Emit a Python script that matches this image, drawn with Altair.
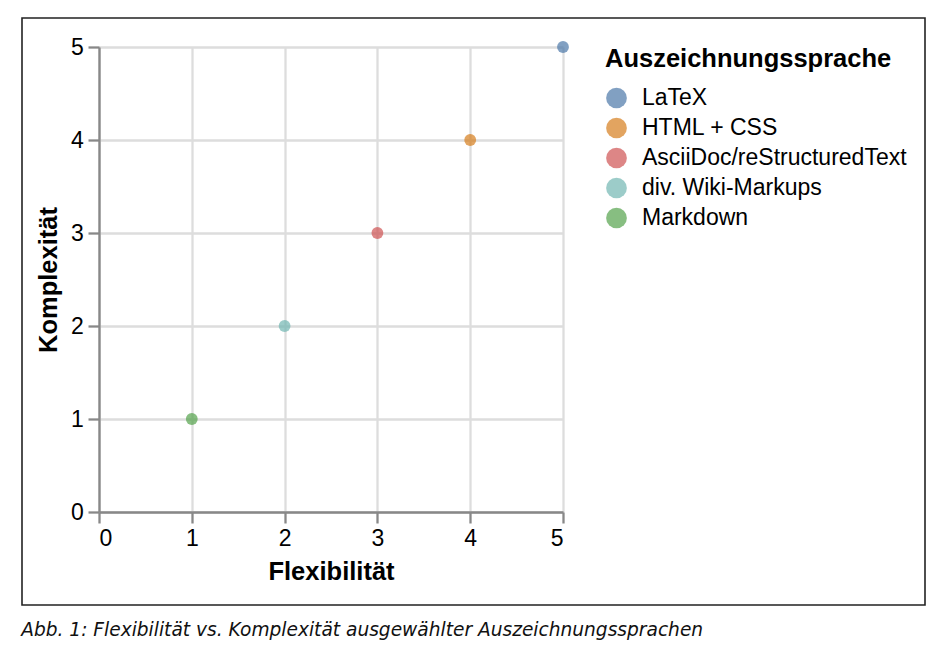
import altair as alt
import pandas as pd

sprachen = ["LaTeX", "HTML + CSS", "AsciiDoc/reStructuredText", "div. Wiki-Markups", "Markdown"]
flexibilitaet = [5, 4, 3, 2, 1]
komplexitaet = [5, 4, 3, 2, 1]
farben = ["#4c78a8", "#d67d1c", "#cf5252", "#72b7b2", "#54a24b"]
ticks = [0, 1, 2, 3, 4, 5]
caption = "Abb. 1: Flexibilität vs. Komplexität ausgewählter Auszeichnungssprachen"

df = pd.DataFrame({
    "Auszeichnungssprache": sprachen,
    "Flexibilität": flexibilitaet,
    "Komplexität": komplexitaet,
})

FONT = "Liberation Sans"

axis_common = dict(
    values=ticks,
    labelFontSize=23,
    titleFontSize=25.5,
    tickSize=11,
    tickWidth=2.3,
    domainWidth=2.3,
    gridWidth=2.3,
    labelPadding=4.6,
    titlePadding=9,
    labelFont=FONT,
    titleFont=FONT,
    labelColor="#000",
    titleColor="#000",
)

points = alt.Chart(df).mark_point(filled=True, size=140, opacity=0.7).encode(
    x=alt.X("Flexibilität:Q", scale=alt.Scale(domain=[0, 5]),
            axis=alt.Axis(title="Flexibilität", **axis_common)),
    y=alt.Y("Komplexität:Q", scale=alt.Scale(domain=[0, 5]),
            axis=alt.Axis(title="Komplexität", **axis_common)),
    color=alt.Color("Auszeichnungssprache:N",
                    scale=alt.Scale(domain=sprachen, range=farben),
                    sort=sprachen,
                    legend=alt.Legend(
                        title="Auszeichnungssprache",
                        titleFontSize=25.5,
                        labelFontSize=23,
                        titleFont=FONT,
                        labelFont=FONT,
                        titleColor="#000",
                        labelColor="#000",
                        titleLimit=0,
                        labelLimit=0,
                        symbolSize=430,
                        symbolStrokeWidth=0,
                        titlePadding=14,
                        rowPadding=6,
                        labelOffset=14,
                        offset=42,
                    )),
)

frame = alt.Chart(pd.DataFrame({"f": [0]})).mark_rect(
    fill="transparent", stroke="#222", strokeWidth=1.6, clip=False
).encode(
    x=alt.value(-77), x2=alt.value(826),
    y=alt.value(-29), y2=alt.value(558),
)

chart = alt.layer(frame, points).properties(
    width=464,
    height=465,
    autosize=alt.AutoSizeParams(type="none"),
    padding={"left": 99, "top": 47, "right": 387, "bottom": 141},
    title=alt.TitleParams(
        text=caption,
        orient="bottom",
        anchor="start",
        frame="bounds",
        font="DejaVu Sans",
        fontSize=18.6,
        fontStyle="italic",
        fontWeight="normal",
        color="#111",
        offset=15,
    ),
).configure_view(stroke=None)

chart.save("out.html", embed_options={"renderer": "svg", "actions": False})
